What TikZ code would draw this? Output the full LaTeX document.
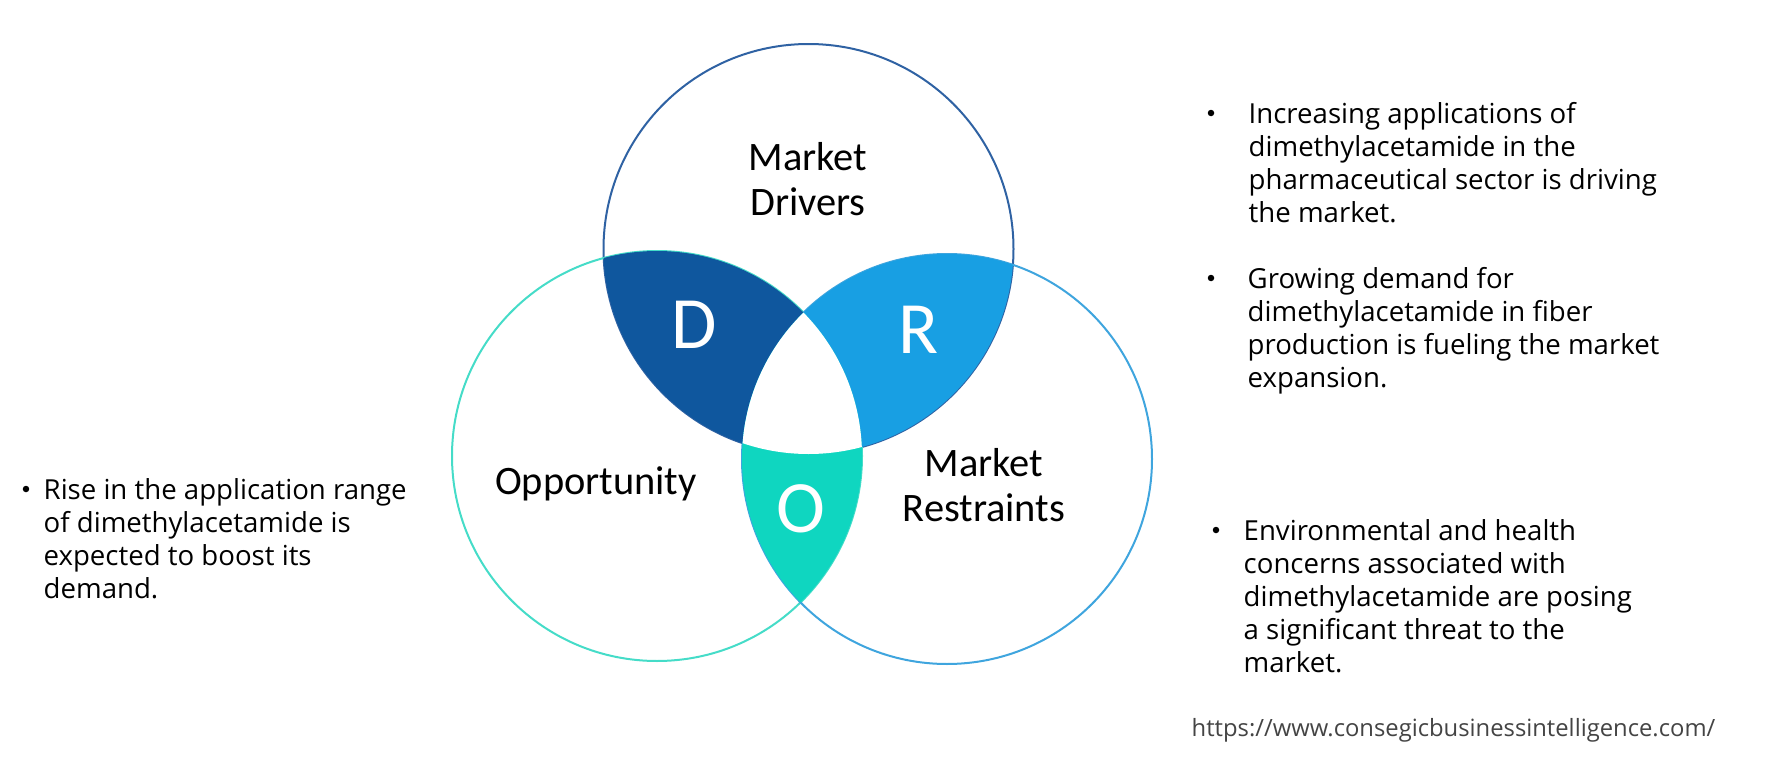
\documentclass[tikz,border=0pt]{standalone}
\usepackage{fontspec}
\setmainfont{Open Sans}
\newfontfamily\labelfont{Carlito}
\definecolor{driverblue}{HTML}{0F579E}
\definecolor{restraintblue}{HTML}{189FE3}
\definecolor{opportunityteal}{HTML}{0FD6C0}
\definecolor{driverline}{HTML}{2F62A3}
\definecolor{restraintline}{HTML}{3FA5DE}
\definecolor{opportunityline}{HTML}{45DCC8}
\definecolor{urlgrey}{HTML}{444444}
\tikzset{
  bulletdot/.style={fill=black,circle,inner sep=0pt,minimum size=0.065cm},
  bodytext/.style={anchor=north west,align=left,inner sep=0pt,font=\fontsize{7.85pt}{9.4pt}\selectfont},
  vennlabel/.style={align=center,inner sep=0pt,font=\labelfont\fontsize{11.5pt}{12.8pt}\selectfont},
  letterlabel/.style={text=white,inner sep=0pt,font=\labelfont\fontsize{21pt}{24pt}\selectfont}
}
\begin{document}
\begin{tikzpicture}[y=-1cm]
\useasboundingbox (0,0) rectangle (17.8,7.68);

% 1cm = 100 px of the picture
\coordinate (C_top) at (8.085, 2.49);
\coordinate (C_left) at (6.57, 4.56);
\coordinate (C_right) at (9.47, 4.59);
\def\rad{2.05}

\draw[driverline, line width=0.2mm] (C_top) circle (\rad);
\draw[opportunityline, line width=0.2mm] (C_left) circle (\rad);
\draw[restraintline, line width=0.2mm] (C_right) circle (\rad);

% two lenses first, the middle goes white afterwards
\begin{scope}
\clip (C_top) circle (\rad);
\fill[driverblue] (C_left) circle (\rad);
\fill[restraintblue] (C_right) circle (\rad);
\end{scope}
\begin{scope}
\clip (C_left) circle (\rad);
\fill[opportunityteal] (C_right) circle (\rad);
\clip (C_right) circle (\rad);
\fill[white] (C_top) circle (\rad);
\end{scope}

\node[vennlabel] (drivers) at (8.08, 1.79) {Market\\Drivers};
\node[vennlabel] (opportunity) at (5.96, 4.84) {Opportunity};
\node[vennlabel] (restraints) at (9.84, 4.85) {Market\\Restraints};
\node[letterlabel] (letter_d) at (6.94, 3.25) {D};
\node[letterlabel] (letter_r) at (9.19, 3.30) {R};
\node[letterlabel] (letter_o) at (8.01, 5.09) {O};

\node[bulletdot] (dot_1) at (12.11, 1.13) {};
\node[bodytext] (text_1) at (12.48, 1.02) {Increasing applications of\\dimethylacetamide in the\\pharmaceutical sector is driving\\the market.};
\node[bulletdot] (dot_2) at (12.11, 2.78) {};
\node[bodytext] (text_2) at (12.47, 2.67) {Growing demand for\\dimethylacetamide in fiber\\production is fueling the market\\expansion.};
\node[bulletdot] (dot_3) at (12.16, 5.30) {};
\node[bodytext] (text_3) at (12.43, 5.19) {Environmental and health\\concerns associated with\\dimethylacetamide are posing\\a significant threat to the\\market.};
\node[bulletdot] (dot_4) at (0.26, 4.89) {};
\node[bodytext] (text_4) at (0.43, 4.78) {Rise in the application range\\of dimethylacetamide is\\expected to boost its\\demand.};

\node[anchor=west, inner sep=0pt, text=urlgrey, font=\fontsize{6.77pt}{8pt}\selectfont] (url) at (11.91, 7.30) {https://www.consegicbusinessintelligence.com/};

\end{tikzpicture}
\end{document}
